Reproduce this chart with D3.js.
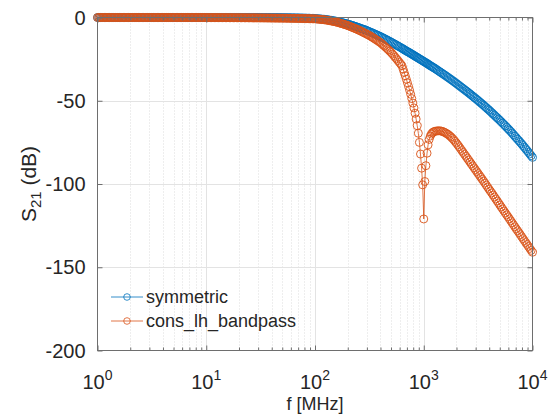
<!DOCTYPE html>
<html>
<head>
<meta charset="utf-8">
<script src="https://cdn.jsdelivr.net/npm/d3@7"></script>
<style>
  body { margin: 0; background: #fff; }
  text { font-family: "Liberation Sans", Arial, sans-serif; fill: #262626; }
</style>
</head>
<body>
<svg id="chart" width="549" height="414"></svg>
<script>
// frequency samples in MHz (log spaced, denser around the notch)
var freqs = [1,1.029,1.059,1.09,1.122,1.155,1.189,1.223,1.259,1.296,1.334,1.372,1.413,1.454,1.496,1.54,1.585,1.631,1.679,1.728,1.778,1.83,1.884,1.939,1.995,2.054,2.113,2.175,2.239,2.304,2.371,2.441,2.512,2.585,2.661,2.738,2.818,2.901,2.985,3.073,3.162,3.255,3.35,3.447,3.548,3.652,3.758,3.868,3.981,4.097,4.217,4.34,4.467,4.597,4.732,4.87,5.012,5.158,5.309,5.464,5.623,5.788,5.957,6.131,6.31,6.494,6.683,6.879,7.079,7.286,7.499,7.718,7.943,8.175,8.414,8.66,8.913,9.173,9.441,9.716,
  10,10.29,10.59,10.9,11.22,11.55,11.89,12.23,12.59,12.96,13.34,13.72,14.13,14.54,14.96,15.4,15.85,16.31,16.79,17.28,17.78,18.3,18.84,19.39,19.95,20.54,21.13,21.75,22.39,23.04,23.71,24.41,25.12,25.85,26.61,27.38,28.18,29.01,29.85,30.73,31.62,32.55,33.5,34.47,35.48,36.52,37.58,38.68,39.81,40.97,42.17,43.4,44.67,45.97,47.32,48.7,50.12,51.58,53.09,54.64,56.23,57.88,59.57,61.31,63.1,64.94,66.83,68.79,70.79,72.86,74.99,77.18,79.43,81.75,84.14,86.6,89.13,91.73,94.41,97.16,
  100,102.9,105.9,109,112.2,115.5,118.9,122.3,125.9,129.6,133.4,137.2,141.3,145.4,149.6,154,158.5,163.1,167.9,172.8,177.8,183,188.4,193.9,199.5,205.4,211.3,217.5,223.9,230.4,237.1,244.1,251.2,258.5,266.1,273.8,281.8,290.1,298.5,307.3,316.2,325.5,335,344.7,354.8,365.2,375.8,386.8,398.1,409.7,421.7,434,446.7,459.7,473.2,487,501.2,515.8,530.9,546.4,562.3,578.8,595.7,613.1,631,
  645.7,660.7,676.1,691.8,707.9,724.4,741.3,758.6,776.2,794.3,812.8,831.8,851.1,871,891.3,912,933.3,955,977.2,1000,1023,1047,1072,1096,1122,1148,1175,1202,1230,1259,
  1296,1334,1372,1413,1454,1496,1540,1585,1631,1679,1728,1778,1830,1884,1939,1995,2054,2113,2175,2239,2304,2371,2441,2512,2585,2661,2738,2818,2901,2985,3073,3162,3255,3350,3447,3548,3652,3758,3868,3981,4097,4217,4340,4467,4597,4732,4870,5012,5158,5309,5464,5623,5788,5957,6131,6310,6494,6683,6879,7079,7286,7499,7718,7943,8175,8414,8660,8913,9173,9441,9716,10000];

// S21 in dB
var symmetric = [0,0,0,0,0,0,0,0,0,0,0,0,0,0,0,0,0,0,0,0,0,0,0,0,0,0,0,0,0,0,0,0,0,0,0,0,0,0,0,0,0,0,0,0,0,0,0,0,0,0,0,0,0,0,0,0,0,0,0,0,0,0,0,0,0,0,0,0,0,0,0,0,0,0,0,0,0,0,0,0,
  0,0,0,0,0,0,0,0,0,0,0,0,0,0,0,0,0,0,0,0,0,0,0,0,0,0,0,0,0,0,0,0,0,0,0,0,0,0,0,0,
  -0.03,-0.03,-0.04,-0.04,-0.04,-0.05,-0.05,-0.05,-0.06,-0.06,-0.07,-0.07,-0.08,-0.08,-0.09,-0.09,-0.1,-0.11,-0.12,-0.13,-0.14,-0.15,-0.17,-0.18,-0.2,-0.21,-0.23,-0.24,-0.26,-0.28,-0.3,-0.32,-0.35,-0.37,-0.4,-0.43,-0.46,-0.49,-0.53,-0.56,
  -0.6,-0.67,-0.74,-0.81,-0.88,-0.96,-1.04,-1.12,-1.2,-1.32,-1.45,-1.58,-1.72,-1.86,-2,-2.15,-2.3,-2.49,-2.68,-2.88,-3.08,-3.28,-3.48,-3.69,-3.9,-4.15,-4.4,-4.66,-4.92,-5.18,-5.45,-5.72,-6,-6.3,-6.6,-6.91,-7.22,-7.53,-7.85,-8.17,-8.5,-8.85,-9.2,-9.56,-9.92,-10.28,-10.65,-11.02,-11.4,-11.81,-12.23,-12.65,-13.07,-13.5,-13.93,-14.36,-14.8,-15.25,-15.7,-16.16,-16.62,-17.08,-17.55,-18.02,-18.5,
  -18.9,-19.3,-19.7,-20.1,-20.5,-20.8,-21.2,-21.6,-22,-22.4,-22.8,-23.2,-23.6,-24,-24.4,-24.8,-25.2,-25.6,-26,-26.4,-26.8,-27.2,-27.6,-28,-28.5,-28.9,-29.3,-29.7,-30.1,-30.5,
  -31.05,-31.6,-32.15,-32.7,-33.25,-33.8,-34.35,-34.9,-35.48,-36.05,-36.63,-37.2,-37.8,-38.4,-39,-39.6,-40.23,-40.85,-41.48,-42.1,-42.73,-43.35,-43.98,-44.6,-45.25,-45.9,-46.58,-47.25,-47.9,-48.55,-49.23,-49.9,-50.6,-51.3,-52,-52.7,-53.43,-54.15,-54.88,-55.6,-56.38,-57.15,-57.93,-58.7,-59.48,-60.25,-61.03,-61.8,-62.63,-63.45,-64.28,-65.1,-65.95,-66.8,-67.65,-68.5,-69.43,-70.35,-71.28,-72.2,-73.13,-74.05,-74.98,-75.9,-76.9,-77.9,-78.9,-79.9,-80.93,-81.95,-82.98,-84];

var consLhBandpass = [0,0,0,0,0,0,0,0,0,0,0,0,0,0,0,0,0,0,0,0,0,0,0,0,0,0,0,0,0,0,0,0,0,0,0,0,0,0,0,0,0,0,0,0,0,0,0,0,0,0,0,0,0,0,0,0,0,0,0,0,0,0,0,0,0,0,0,0,0,0,0,0,0,0,0,0,0,0,0,0,
  -0.05,-0.05,-0.05,-0.05,-0.06,-0.06,-0.06,-0.06,-0.07,-0.07,-0.07,-0.07,-0.08,-0.08,-0.09,-0.09,-0.1,-0.1,-0.11,-0.11,-0.12,-0.12,-0.13,-0.13,-0.14,-0.14,-0.15,-0.15,-0.16,-0.16,-0.17,-0.18,-0.19,-0.19,-0.2,-0.2,-0.21,-0.22,-0.23,-0.24,
  -0.25,-0.25,-0.26,-0.27,-0.28,-0.29,-0.3,-0.31,-0.32,-0.33,-0.34,-0.35,-0.36,-0.37,-0.38,-0.39,-0.4,-0.41,-0.42,-0.43,-0.45,-0.46,-0.48,-0.49,-0.5,-0.51,-0.53,-0.54,-0.56,-0.58,-0.6,-0.62,-0.64,-0.66,-0.68,-0.7,-0.72,-0.75,-0.78,-0.79,
  -0.8,-0.88,-0.96,-1.04,-1.13,-1.22,-1.31,-1.4,-1.5,-1.65,-1.8,-1.96,-2.12,-2.28,-2.45,-2.62,-2.8,-3.03,-3.27,-3.51,-3.76,-4.01,-4.27,-4.53,-4.8,-5.12,-5.45,-5.78,-6.12,-6.46,-6.8,-7.15,-7.5,-7.9,-8.3,-8.71,-9.12,-9.53,-9.95,-10.37,-10.8,-11.3,-11.8,-12.31,-12.83,-13.36,-13.9,-14.45,-15,-15.7,-16.4,-17.12,-17.85,-18.62,-19.4,-20.2,-21,-21.95,-22.9,-23.87,-24.85,-25.87,-26.9,-27.95,-29,
  -31,-33,-35,-37.1,-39.2,-41.4,-43.7,-46.1,-48.7,-51.4,-54.3,-57.5,-61,-65,-69.5,-75,-82,-90.5,-100.5,-121,-98.5,-89,-81.5,-76.5,-73.2,-71.2,-70,-69.2,-68.7,-68.4,
  -68.2,-68.1,-68.05,-68.1,-68.25,-68.5,-68.85,-69.3,-69.8,-70.3,-71,-71.7,-72.55,-73.4,-74.4,-75.4,-76.5,-77.6,-78.75,-79.9,-81.05,-82.2,-83.35,-84.5,-85.65,-86.8,-87.95,-89.1,-90.25,-91.4,-92.55,-93.7,-94.85,-96,-97.15,-98.3,-99.5,-100.7,-101.9,-103.1,-104.25,-105.4,-106.6,-107.8,-109,-110.2,-111.4,-112.6,-113.8,-115,-116.2,-117.4,-118.55,-119.7,-120.9,-122.1,-123.3,-124.5,-125.7,-126.9,-128.05,-129.2,-130.4,-131.6,-132.8,-134,-135.15,-136.3,-137.5,-138.7,-139.85,-141];

var seriesNames = ["symmetric", "cons_lh_bandpass"];
var seriesColors = ["#0072BD", "#D95319"];
var yTicks = [0, -50, -100, -150, -200];
var xDecades = [1, 10, 100, 1000, 10000];
var xExponents = ["0", "1", "2", "3", "4"];

var svg = d3.select("#chart");
var plotLeft = 97.5, plotRight = 532.5, plotTop = 17.5, plotBottom = 350.5;

var x = d3.scaleLog().domain([1, 10000]).range([plotLeft, plotRight]);
var y = d3.scaleLinear().domain([-200, 0]).range([plotBottom, plotTop]);

// minor decade positions 2..9
var minors = [];
xDecades.slice(0, -1).forEach(function(d) {
  for (var k = 2; k <= 9; k++) minors.push(d * k);
});

// grid
var grid = svg.append("g");
grid.selectAll(".minor").data(minors).enter().append("line")
  .attr("x1", function(d) { return Math.round(x(d)) + 0.5; })
  .attr("x2", function(d) { return Math.round(x(d)) + 0.5; })
  .attr("y1", plotTop).attr("y2", plotBottom)
  .attr("stroke", "#d4d4d4").attr("stroke-width", 0.8).attr("stroke-dasharray", "1,2");
grid.selectAll(".majx").data(xDecades.slice(1, -1)).enter().append("line")
  .attr("x1", function(d) { return Math.round(x(d)) + 0.5; })
  .attr("x2", function(d) { return Math.round(x(d)) + 0.5; })
  .attr("y1", plotTop).attr("y2", plotBottom)
  .attr("stroke", "#e3e3e3").attr("stroke-width", 1);
grid.selectAll(".majy").data(yTicks.slice(1, -1)).enter().append("line")
  .attr("x1", plotLeft).attr("x2", plotRight)
  .attr("y1", function(d) { return Math.round(y(d)) + 0.5; })
  .attr("y2", function(d) { return Math.round(y(d)) + 0.5; })
  .attr("stroke", "#e3e3e3").attr("stroke-width", 1);

// series
var allSeries = [symmetric, consLhBandpass];
var line = d3.line()
  .x(function(d, i) { return x(freqs[i]); })
  .y(function(d) { return y(d); });

allSeries.forEach(function(vals, s) {
  var g = svg.append("g");
  g.append("path").datum(vals)
    .attr("d", line)
    .attr("fill", "none")
    .attr("stroke", seriesColors[s])
    .attr("stroke-width", 0.8);
  g.selectAll("circle").data(vals).enter().append("circle")
    .attr("cx", function(d, i) { return x(freqs[i]); })
    .attr("cy", function(d) { return y(d); })
    .attr("r", 4)
    .attr("fill", "none")
    .attr("stroke", seriesColors[s])
    .attr("stroke-width", 0.9);
});

// axes box and ticks
var axisColor = "#6e6e6e";
function tidy(g) {
  g.select(".domain").remove();
  g.selectAll("line").attr("stroke", axisColor);
}
svg.append("g").attr("transform", "translate(0," + plotBottom + ")")
  .call(d3.axisBottom(x).tickValues(xDecades).tickSize(-5).tickFormat("")).call(tidy);
svg.append("g").attr("transform", "translate(0," + plotBottom + ")")
  .call(d3.axisBottom(x).tickValues(minors).tickSize(-3).tickFormat("")).call(tidy);
svg.append("g").attr("transform", "translate(0," + plotTop + ")")
  .call(d3.axisTop(x).tickValues(xDecades).tickSize(-5).tickFormat("")).call(tidy);
svg.append("g").attr("transform", "translate(0," + plotTop + ")")
  .call(d3.axisTop(x).tickValues(minors).tickSize(-3).tickFormat("")).call(tidy);
svg.append("g").attr("transform", "translate(" + plotLeft + ",0)")
  .call(d3.axisLeft(y).tickValues(yTicks).tickSize(-5).tickFormat("")).call(tidy);
svg.append("g").attr("transform", "translate(" + plotRight + ",0)")
  .call(d3.axisRight(y).tickValues(yTicks).tickSize(-5).tickFormat("")).call(tidy);

svg.append("rect")
  .attr("x", plotLeft).attr("y", plotTop)
  .attr("width", plotRight - plotLeft).attr("height", plotBottom - plotTop)
  .attr("fill", "none").attr("stroke", axisColor).attr("stroke-width", 1);

// tick labels
svg.selectAll(".ylab").data(yTicks).enter().append("text")
  .attr("x", plotLeft - 12)
  .attr("y", function(d) { return y(d) + 7; })
  .attr("text-anchor", "end")
  .attr("font-size", 20)
  .text(function(d) { return d; });

var xl = svg.selectAll(".xlab").data(xDecades).enter().append("text")
  .attr("x", function(d) { return x(d); })
  .attr("y", plotBottom + 38)
  .attr("text-anchor", "middle")
  .attr("font-size", 20);
xl.append("tspan").text("10");
xl.append("tspan").attr("dy", -9).attr("font-size", 14)
  .text(function(d, i) { return xExponents[i]; });

// axis titles
svg.append("text")
  .attr("x", (plotLeft + plotRight) / 2).attr("y", 410)
  .attr("text-anchor", "middle").attr("font-size", 18)
  .text("f [MHz]");

var yt = svg.append("text")
  .attr("transform", "translate(36," + ((plotTop + plotBottom) / 2) + ") rotate(-90)")
  .attr("text-anchor", "middle").attr("font-size", 21);
yt.append("tspan").text("S");
yt.append("tspan").attr("dy", 5).attr("font-size", 15).text("21");
yt.append("tspan").attr("dy", -5).text(" (dB)");

// legend
var legend = svg.append("g");
seriesNames.forEach(function(name, i) {
  var ly = 297 + i * 24;
  legend.append("line")
    .attr("x1", 111).attr("x2", 143).attr("y1", ly).attr("y2", ly)
    .attr("stroke", seriesColors[i]).attr("stroke-width", 0.8);
  legend.append("circle")
    .attr("cx", 127).attr("cy", ly).attr("r", 3.3)
    .attr("fill", "none").attr("stroke", seriesColors[i]).attr("stroke-width", 0.8);
  legend.append("text")
    .attr("x", 146).attr("y", ly + 6)
    .attr("font-size", 18)
    .text(name);
});
</script>
</body>
</html>
